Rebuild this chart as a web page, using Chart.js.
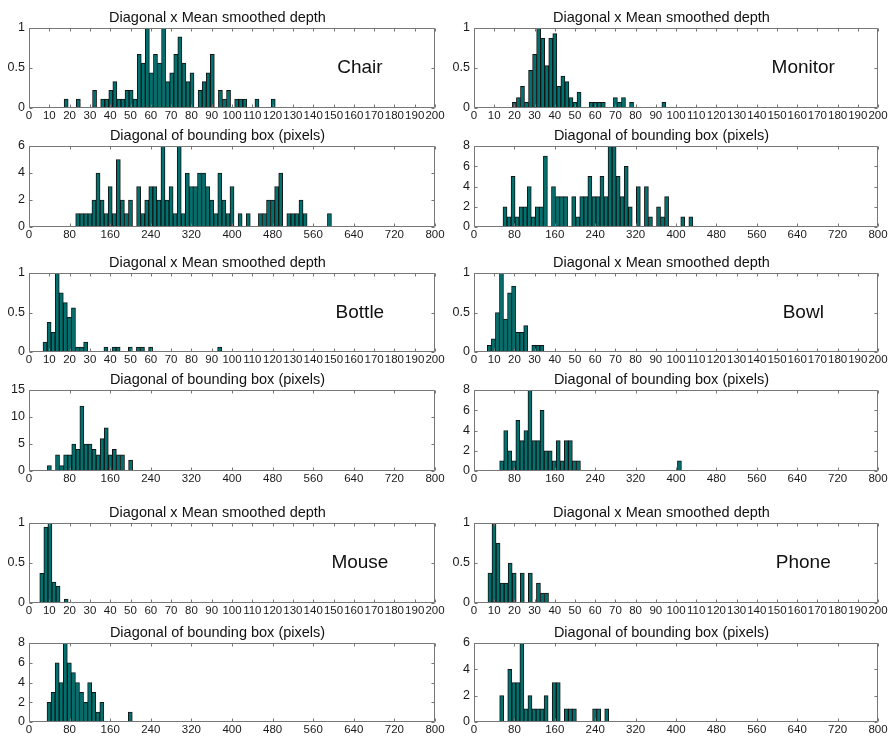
<!DOCTYPE html>
<html>
<head>
<meta charset="utf-8">
<script src="https://cdn.jsdelivr.net/npm/chart.js@4.4.1/dist/chart.umd.min.js"></script>
<style>
    html, body { margin: 0; padding: 0; background: #fff; }
    #figure { position: relative; width: 894px; height: 738px; overflow: hidden; }
    #figure canvas { position: absolute; }
</style>
</head>
<body>
<div id="figure"></div>
<script>
// depth histograms: bins 2 units wide, heights normalised to the tallest bin
const chairDepthStart = 17.3;
const chairDepth = [.11, 0, 0, .11, 0, 0, 0, .22, 0, .11, .11, .22, .33, .11, .11, .22, .22, .11, .67, .56,
    1, .44, .67, .56, 1, .33, .44, .67, .89, .56, .33, .44, 0, .22, .33, .44, .67, 0, .22, .11,
    .22, 0, .11, .11, .11, 0, 0, .11, 0, 0, 0, .11];

const monitorDepthStart = 19;
const monitorDepth = [.07, .13, .27, .07, .47, .67, 1, .87, .53, .87, .93, .27, .4, .33, .13, .07, .2, 0, 0, .07,
    .07, .07, .07, 0, 0, .13, .07, .13, 0, .07, 0, 0, 0, 0, 0, 0, 0, .07];

const bottleDepthStart = 6.9;
const bottleDepth = [.125, .375, .25, 1, .75, .625, .44, .56, .0625, .0625, .125, 0, 0, 0, 0, .0625, 0, .0625, .0625, 0,
    0, .0625, 0, .0625, .0625, 0, .0625, 0, 0, 0, 0, 0, 0, 0, 0, 0, 0, 0, 0, 0, 0, 0, 0, .0625];

const bowlDepthStart = 6.6;
const bowlDepth = [.083, .167, .5, 1, .417, .75, .833, .25, .25, .333, 0, .083, .083, .083];

const mouseDepthStart = 5.3;
const mouseDepth = [.37, .95, 1, .26, .21, 0, .05];

const phoneDepthStart = 6.9;
const phoneDepth = [.375, 1, .75, .25, .25, .5, .375, 0, .375, 0, .375, 0, .25, .125, .125];

// bounding box diagonal histograms: bins 8 px wide, raw counts
const chairDiagStart = 92;
const chairDiag = [1, 1, 1, 1, 2, 4, 2, 1, 3, 1, 5, 2, 1, 2, 0, 3, 1, 2, 3, 3, 2, 6, 2, 3, 1, 6, 1, 4, 3, 3,
    4, 4, 3, 2, 1, 4, 2, 1, 3, 0, 1, 0, 1, 0, 0, 1, 1, 2, 2, 3, 4, 0, 1, 1, 1, 2, 1, 0, 0, 0, 0, 0, 1];

const monitorDiagStart = 57.4;
const monitorDiag = [2, 1, 5, 1, 2, 2, 4, 1, 2, 2, 7, 0, 4, 3, 3, 3, 0, 3, 1, 3, 3, 5, 3, 3, 5, 3, 8, 8, 5, 3,
    6, 2, 0, 4, 0, 4, 1, 0, 2, 1, 3, 0, 0, 0, 1, 0, 1];

const bottleDiagStart = 36.2;
const bottleDiag = [1, 0, 3, 1, 3, 3, 5, 4, 12, 5, 5, 4, 3, 6, 8, 3, 4, 3, 3, 0, 2];

const bowlDiagStart = 50.8;
const bowlDiag = [1, 4, 2, 1, 5, 3, 4, 8, 3, 3, 6, 2, 2, 1, 3, 1, 3, 3, 1, 1,
    0, 0, 0, 0, 0, 0, 0, 0, 0, 0, 0, 0, 0, 0, 0, 0, 0, 0, 0, 0, 0, 0, 0, 0, 1];

const mouseDiagStart = 35.5;
const mouseDiag = [2, 3, 6, 4, 8, 6, 5, 4, 3, 2, 4, 3, 1, 2, 0, 0, 0, 0, 0, 0, 1];

const phoneDiagStart = 50.8;
const phoneDiag = [2, 0, 4, 3, 3, 6, 1, 2, 1, 1, 1, 2, 0, 3, 3, 0, 1, 1, 1, 0, 0, 0, 0, 1, 1, 0, 1];

const depthTitle = "Diagonal x Mean smoothed depth";
const diagTitle = "Diagonal of bounding box (pixels)";

// plot boxes of the 2 x 6 grid
const colLeft = [29, 474];
const colRight = [435, 878];
const rowTop = [28, 146, 273, 390, 523, 643];
const rowBottom = [108, 227, 352, 471, 603, 722];

const panels = [
    { title: depthTitle, name: "Chair", start: chairDepthStart, bin: 2, values: chairDepth, xMax: 200, xStep: 10, yMax: 1, yStep: 0.5, col: 0, row: 0 },
    { title: depthTitle, name: "Monitor", start: monitorDepthStart, bin: 2, values: monitorDepth, xMax: 200, xStep: 10, yMax: 1, yStep: 0.5, col: 1, row: 0 },
    { title: diagTitle, start: chairDiagStart, bin: 8, values: chairDiag, xMax: 800, xStep: 80, yMax: 6, yStep: 2, col: 0, row: 1 },
    { title: diagTitle, start: monitorDiagStart, bin: 8, values: monitorDiag, xMax: 800, xStep: 80, yMax: 8, yStep: 2, col: 1, row: 1 },
    { title: depthTitle, name: "Bottle", start: bottleDepthStart, bin: 2, values: bottleDepth, xMax: 200, xStep: 10, yMax: 1, yStep: 0.5, col: 0, row: 2 },
    { title: depthTitle, name: "Bowl", start: bowlDepthStart, bin: 2, values: bowlDepth, xMax: 200, xStep: 10, yMax: 1, yStep: 0.5, col: 1, row: 2 },
    { title: diagTitle, start: bottleDiagStart, bin: 8, values: bottleDiag, xMax: 800, xStep: 80, yMax: 15, yStep: 5, col: 0, row: 3 },
    { title: diagTitle, start: bowlDiagStart, bin: 8, values: bowlDiag, xMax: 800, xStep: 80, yMax: 8, yStep: 2, col: 1, row: 3 },
    { title: depthTitle, name: "Mouse", start: mouseDepthStart, bin: 2, values: mouseDepth, xMax: 200, xStep: 10, yMax: 1, yStep: 0.5, col: 0, row: 4 },
    { title: depthTitle, name: "Phone", start: phoneDepthStart, bin: 2, values: phoneDepth, xMax: 200, xStep: 10, yMax: 1, yStep: 0.5, col: 1, row: 4 },
    { title: diagTitle, start: mouseDiagStart, bin: 8, values: mouseDiag, xMax: 800, xStep: 80, yMax: 8, yStep: 2, col: 0, row: 5 },
    { title: diagTitle, start: phoneDiagStart, bin: 8, values: phoneDiag, xMax: 800, xStep: 80, yMax: 6, yStep: 2, col: 1, row: 5 }
];

const FONT = "'Liberation Sans', Arial, Helvetica, sans-serif";
const Y_AXIS_W = 29;
const X_AXIS_H = 16;
const TITLE_H = 18;
const PAD_RIGHT = 14;

Chart.defaults.font.family = FONT;
Chart.defaults.color = "#1a1a1a";

// matlab style box with inward ticks on all four sides, plus the class name
const matlabBox = {
    id: "matlabBox",
    afterDatasetsDraw(chart, args, opts) {
        const { ctx, chartArea: a } = chart;
        const x = chart.scales.x;
        const y = chart.scales.y;
        const L = Math.round(a.left) + 0.5;
        const R = Math.round(a.right) - 0.5;
        const T = Math.round(a.top) + 0.5;
        const B = Math.round(a.bottom) - 0.5;

        ctx.save();
        ctx.strokeStyle = "#777";
        ctx.lineWidth = 1;
        ctx.beginPath();
        ctx.rect(L, T, R - L, B - T);
        x.ticks.forEach(t => {
            const px = Math.round(x.getPixelForValue(t.value)) + 0.5;
            ctx.moveTo(px, B); ctx.lineTo(px, B - 3);
            ctx.moveTo(px, T); ctx.lineTo(px, T + 3);
        });
        y.ticks.forEach(t => {
            const py = Math.round(y.getPixelForValue(t.value)) + 0.5;
            ctx.moveTo(L, py); ctx.lineTo(L + 3, py);
            ctx.moveTo(R, py); ctx.lineTo(R - 3, py);
        });
        ctx.stroke();

        if (opts.name) {
            ctx.fillStyle = "#111";
            ctx.font = "19px " + FONT;
            ctx.textAlign = "center";
            ctx.textBaseline = "middle";
            ctx.fillText(opts.name, x.getPixelForValue(163), y.getPixelForValue(0.5));
        }
        ctx.restore();
    }
};

const figure = document.getElementById("figure");

panels.forEach(p => {
    const left = colLeft[p.col], right = colRight[p.col];
    const top = rowTop[p.row], bottom = rowBottom[p.row];

    const canvas = document.createElement("canvas");
    canvas.width = right - left + Y_AXIS_W + PAD_RIGHT;
    canvas.height = bottom - top + TITLE_H + X_AXIS_H;
    canvas.style.left = (left - Y_AXIS_W) + "px";
    canvas.style.top = (top - TITLE_H) + "px";
    figure.appendChild(canvas);

    const points = p.values.map((v, i) => ({ x: p.start + (i + 0.5) * p.bin, y: v === 0 ? null : v }));

    new Chart(canvas, {
        type: "bar",
        data: {
            datasets: [{
                data: points,
                backgroundColor: "#00716f",
                borderColor: "#141414",
                borderWidth: 1,
                borderSkipped: false,
                barPercentage: 1,
                categoryPercentage: 1
            }]
        },
        options: {
            responsive: false,
            animation: false,
            events: [],
            layout: { padding: { left: 0, top: 0, right: PAD_RIGHT, bottom: 0 } },
            scales: {
                x: {
                    type: "linear",
                    min: 0,
                    max: p.xMax,
                    offset: false,
                    grid: { display: false, drawTicks: false },
                    border: { display: false },
                    ticks: {
                        stepSize: p.xStep,
                        autoSkip: false,
                        maxRotation: 0,
                        padding: 1,
                        font: { size: 11.5 },
                        callback: v => String(v)
                    },
                    afterFit(scale) { scale.height = X_AXIS_H; }
                },
                y: {
                    min: 0,
                    max: p.yMax,
                    grid: { display: false, drawTicks: false },
                    border: { display: false },
                    ticks: {
                        stepSize: p.yStep,
                        padding: 4,
                        font: { size: 12.5 },
                        callback: v => String(v)
                    },
                    afterFit(scale) { scale.width = Y_AXIS_W; }
                }
            },
            plugins: {
                legend: { display: false },
                tooltip: { enabled: false },
                title: {
                    display: true,
                    text: p.title,
                    color: "#111",
                    font: { size: 14.5, weight: "normal", lineHeight: "16px" },
                    padding: { top: 0, bottom: 2 }
                },
                matlabBox: { name: p.name }
            }
        },
        plugins: [matlabBox]
    });
});
</script>
</body>
</html>
